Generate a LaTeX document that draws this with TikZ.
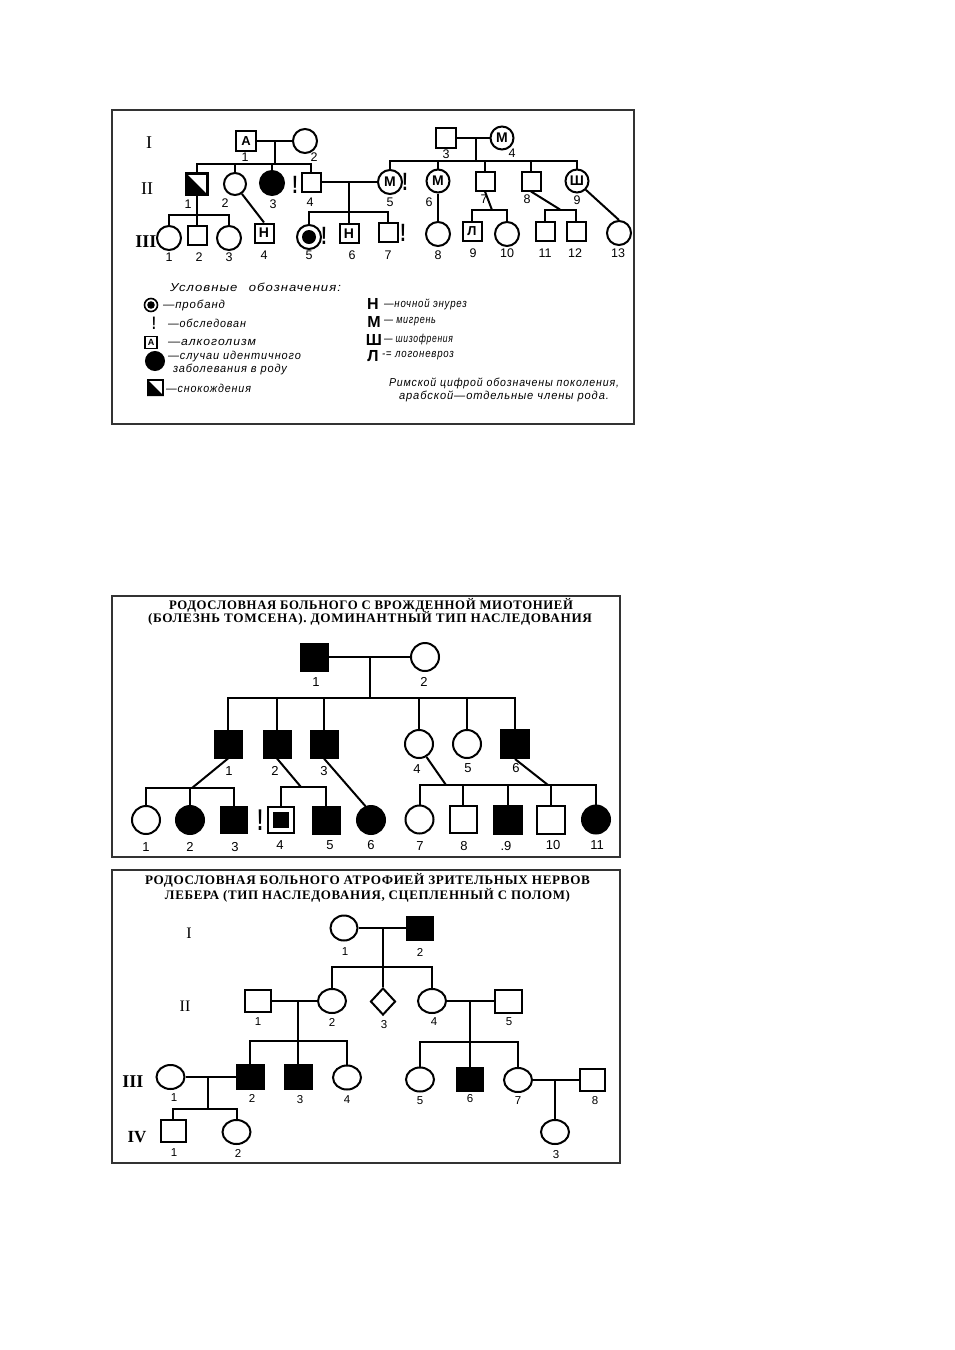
\documentclass[tikz,border=0pt]{standalone}
\usepackage{fontspec}
\setmainfont{Liberation Serif}
\setsansfont{Liberation Sans}
\newfontfamily\handfont[LetterSpace=8]{Liberation Sans}
\newfontfamily\ttlfont[LetterSpace=5]{Liberation Serif}
\newfontfamily\romfont{Liberation Serif}
\usetikzlibrary{shapes.geometric}
\newsavebox\fitbox
\newcommand\fitw[2]{\sbox\fitbox{#2}\pgfmathsetmacro\fitr{#1/\the\wd\fitbox}\scalebox{\fitr}[1]{\usebox\fitbox}}
\newcommand\fsz[1]{\fontsize{#1}{#1}\selectfont}
\begin{document}
\begin{tikzpicture}[x=1pt,y=-1pt,line width=2pt,
  sq/.style={draw,rectangle,inner sep=0pt,minimum size=#1},
  ci/.style={draw,circle,inner sep=0pt,minimum size=#1},
  el/.style 2 args={draw,ellipse,inner sep=0pt,minimum width=#1,minimum height=#2},
  rc/.style 2 args={draw,rectangle,inner sep=0pt,minimum width=#1,minimum height=#2},
  dia/.style={draw,diamond,inner sep=0pt,minimum width=25,minimum height=27},
  blk/.style={fill=black},
  frm/.style={draw=black!80,line width=2pt},
  let/.style={font=\sffamily\bfseries\fsz{14}},
  la/.style={font=\sffamily\fsz{12.5},inner sep=0pt},
  lb/.style={font=\sffamily\fsz{13},inner sep=0pt},
  lc/.style={font=\sffamily\fsz{11.5},inner sep=0pt},
  excl/.style={font=\sffamily\bfseries\fsz{25},inner sep=0pt},
  hand/.style={font=\handfont\itshape\fsz{11.5},inner sep=0pt,anchor=west},
  ttl/.style={font=\ttlfont\bfseries\fsz{13},inner sep=0pt},
  rom/.style={font=\romfont\fsz{18},inner sep=0pt},
  romb/.style={font=\romfont\bfseries\fsz{18},inner sep=0pt}]
\useasboundingbox[fill=white] (0,0) rectangle (955,1350);

%================ PANEL 1 ================
\draw[frm] (112,110) rectangle (634,424);
\node[rom] (r1) at (149,143) {I};
\node[rom] (r2) at (147,189) {II};
\node[romb] (r3) at (146,242) {III};

% generation I
\node[sq=20,let,font=\sffamily\bfseries\fsz{13}] (a11) at (246,141) {А};
\node[ci=24] (a12) at (305,141) {};
\draw (a11) -- (a12);
\coordinate (m11) at (275,141);
\coordinate (s11) at (0,164);
\node[sq=20] (a13) at (446,138) {};
\node[ci=23,let] (a14) at (502,138) {М};
\draw (a13) -- (a14);
\coordinate (m12) at (476,138);
\coordinate (s12) at (0,161);
\node[la] at (245,157) {1};
\node[la] at (314,157) {2};
\node[la] at (446,154) {3};
\node[la] at (512,153) {4};

% generation II
\node[sq=20] (a21) at (197,184) {};
\fill (a21.north west) -- (a21.south east) -- (a21.south west) -- cycle;
\draw (a21.north west) rectangle (a21.south east);
\node[ci=22] (a22) at (235,184) {};
\node[ci=24,blk] (a23) at (272,183) {};
\node[sq=19] (a24) at (311,182) {};
\node[ci=24,let] (a25) at (390,182) {М};
\node[ci=23,let] (a26) at (438,181) {М};
\node[sq=19] (a27) at (485,181) {};
\node[sq=19] (a28) at (531,181) {};
\node[ci=23,let] (a29) at (577,181) {Ш};
\node[excl] (x1) at (295,185) {\scalebox{0.7}[1]{!}};
\node[excl] (x2) at (405,182) {\scalebox{0.7}[1]{!}};
\draw (m11) -- (m11 |- s11);
\draw (a21.north) -- (a21.north |- s11) -- (a24.north |- s11) -- (a24.north);
\draw (a22.north) -- (a22.north |- s11);
\draw (a23.north) -- (a23.north |- s11);
\draw (m12) -- (m12 |- s12);
\draw (a25.north) -- (a25.north |- s12) -- (a29.north |- s12) -- (a29.north);
\foreach \n in {a26,a27,a28} \draw (\n.north) -- (\n.north |- s12);
\draw (a24) -- (a25);
\coordinate (m21) at (349,182);
\coordinate (s21) at (0,212);
\node[la] at (188,204) {1};
\node[la] at (225,203) {2};
\node[la] at (273,204) {3};
\node[la] at (310,202) {4};
\node[la] at (390,202) {5};
\node[la] at (429,202) {6};
\node[la] at (484,199) {7};
\node[la] at (527,199) {8};
\node[la] at (577,200) {9};

% generation III
\node[ci=24] (a31) at (169,238) {};
\node[sq=19] (a32) at (197,235.5) {};
\node[ci=24] (a33) at (229,238) {};
\coordinate (s22) at (0,215);
\draw (a21.south) -- (a32.north);
\draw (a31.north) -- (a31.north |- s22) -- (a33.north |- s22) -- (a33.north);
\node[sq=19,let,font=\sffamily\bfseries\fsz{14}] (a34) at (264,233) {Н};
\draw (a22.-55) -- (a34.north);
\node[ci=24] (a35) at (309,237) {};
\fill (a35.center) circle (7);
\node[excl] (x3) at (324,236) {\scalebox{0.7}[1]{!}};
\node[sq=19,let,font=\sffamily\bfseries\fsz{14}] (a36) at (349,233.5) {Н};
\node[sq=19] (a37) at (388,232.5) {};
\node[excl] (x4) at (403,233) {\scalebox{0.7}[1]{!}};
\draw (m21) -- (a36.north);
\draw (a35.north) -- (a35.north |- s21) -- (a37.north |- s21) -- (a37.north);
\node[ci=24] (a38) at (438,234) {};
\draw (a26.south) -- (a38.north);
\node[sq=19,let,font=\sffamily\bfseries\fsz{13}] (a39) at (472,231) {Л};
\node[ci=24] (a310) at (507,234) {};
\coordinate (s23) at (0,210);
\coordinate (j11) at (492,210);
\draw (a27.south) -- (j11);
\draw (a39.north) -- (a39.north |- s23) -- (a310.north |- s23) -- (a310.north);
\node[sq=19] (a311) at (545,231) {};
\node[sq=19] (a312) at (576,231) {};
\coordinate (s24) at (0,209.5);
\coordinate (j12) at (560,209.5);
\draw (a28.south) -- (j12);
\draw (a311.north) -- (a311.north |- s24) -- (a312.north |- s24) -- (a312.north);
\node[ci=24] (a313) at (619,233) {};
\draw (a29.-45) -- (a313.north);
\node[la] at (169,257) {1};
\node[la] at (199,257) {2};
\node[la] at (229,257) {3};
\node[la] at (264,255) {4};
\node[la] at (309,255) {5};
\node[la] at (352,255) {6};
\node[la] at (388,255) {7};
\node[la] at (438,255) {8};
\node[la] at (473,253) {9};
\node[la] at (507,253) {10};
\node[la] at (545,253) {11};
\node[la] at (575,253) {12};
\node[la] at (618,253) {13};

% legend
\node[hand] (t0) at (169,287) {\fitw{171}{Условные\hspace{10pt}обозначения:}};
\node[ci=13,line width=1.6pt] (g1) at (151,305) {};
\fill (g1.center) circle (3.8);
\node[hand] (t1) at (162,305) {\fitw{62}{—пробанд}};
\node[excl,font=\sffamily\bfseries\fsz{18}] (g2) at (154,323) {\scalebox{0.7}[1]{!}};
\node[hand] (t2) at (167,323) {\fitw{78}{—обследован}};
\node[sq=12,line width=1.4pt,font=\sffamily\bfseries\fsz{9}] (g3) at (151,342.5) {А};
\node[hand] (t3) at (167,342.5) {\fitw{88}{—алкоголизм}};
\node[ci=18,blk] (g4) at (155,361) {};
\node[hand] (t4) at (167,357) {\fitw{133}{—случаи идентичного}};
\node[hand] (t5) at (172,369) {\fitw{114}{заболевания в роду}};
\node[sq=15] (g5) at (155.5,387.5) {};
\fill (g5.north west) -- (g5.south east) -- (g5.south west) -- cycle;
\node[hand] (t6) at (165,388) {\fitw{85}{—снокождения}};

\node[font=\sffamily\bfseries\fsz{16},inner sep=0pt] (h1) at (373,304) {Н};
\node[hand] (u1) at (383,304) {\fitw{83}{—ночной энурез}};
\node[font=\sffamily\bfseries\fsz{16},inner sep=0pt] (h2) at (374,322) {М};
\node[hand] (u2) at (383,322) {\fitw{52}{— мигрень}};
\node[font=\sffamily\bfseries\fsz{16},inner sep=0pt] (h3) at (374,340) {Ш};
\node[hand] (u3) at (383,340) {\fitw{69}{— шизофрения}};
\node[font=\sffamily\bfseries\fsz{16},inner sep=0pt] (h4) at (373,356) {Л};
\node[hand] (u4) at (381,356) {\fitw{72}{-= логоневроз}};
\node[hand] (u5) at (388,383) {\fitw{230}{Римской цифрой обозначены поколения,}};
\node[hand] (u6) at (398,396) {\fitw{210}{арабской—отдельные члены рода.}};

%================ PANEL 2 ================
\draw[frm] (112,596) rectangle (620,857);
\node[ttl] (tt1) at (371,605) {\fitw{404}{РОДОСЛОВНАЯ БОЛЬНОГО С ВРОЖДЕННОЙ МИОТОНИЕЙ}};
\node[ttl] (tt2) at (370,618) {\fitw{444}{(БОЛЕЗНЬ ТОМСЕНА). ДОМИНАНТНЫЙ ТИП НАСЛЕДОВАНИЯ}};

\node[sq=27,blk] (b11) at (314,657) {};
\node[ci=28] (b12) at (425,657) {};
\draw (b11) -- (b12);
\coordinate (mb1) at (370,657);
\coordinate (sb1) at (0,698);
\node[lb] at (316,682) {1};
\node[lb] at (424,682) {2};

\node[sq=27,blk] (b21) at (228,744) {};
\node[sq=27,blk] (b22) at (277,744) {};
\node[sq=27,blk] (b23) at (324,744) {};
\node[ci=28] (b24) at (419,744) {};
\node[ci=28] (b25) at (467,744) {};
\node[sq=28,blk] (b26) at (515,744) {};
\draw (mb1) -- (mb1 |- sb1);
\draw (b21.north) -- (b21.north |- sb1) -- (b26.north |- sb1) -- (b26.north);
\foreach \n in {b22,b23,b24,b25} \draw (\n.north) -- (\n.north |- sb1);
\node[lb] at (229,771) {1};
\node[lb] at (275,771) {2};
\node[lb] at (324,771) {3};
\node[lb] at (417,769) {4};
\node[lb] at (468,768) {5};
\node[lb] at (516,768) {6};

\node[ci=28] (b31) at (146,820) {};
\node[ci=28,blk] (b32) at (190,820) {};
\node[sq=26,blk] (b33) at (234,820) {};
\coordinate (sb2) at (0,788);
\coordinate (jb1) at (192,788);
\draw (b21.south) -- (jb1);
\draw (b31.north) -- (b31.north |- sb2) -- (b33.north |- sb2) -- (b33.north);
\draw (b32.north) -- (b32.north |- sb2);
\node[sq=26] (b34) at (281,820) {};
\fill (b34.center) ++(-8,-8) rectangle ++(16,16);
\node[excl,font=\sffamily\bfseries\fsz{30}] (x5) at (260,820) {\scalebox{0.6}[1]{!}};
\node[sq=27,blk] (b35) at (326,820) {};
\coordinate (sb3) at (0,787);
\coordinate (jb2) at (301,787);
\draw (b22.south) -- (jb2);
\draw (b34.north) -- (b34.north |- sb3) -- (b35.north |- sb3) -- (b35.north);
\node[ci=28,blk] (b36) at (371,820) {};
\draw (b23.south) -- (b36.112);
\node[ci=28] (b37) at (419.5,819.5) {};
\node[sq=27] (b38) at (463,819.5) {};
\node[sq=28,blk] (b39) at (507.5,819.5) {};
\node[sq=28] (b310) at (551,819.5) {};
\node[ci=28,blk] (b311) at (596,819.5) {};
\coordinate (sb4) at (0,785);
\coordinate (jb3) at (446,785);
\coordinate (jb4) at (548,785);
\draw (b24.-60) -- (jb3);
\draw (b26.south) -- (jb4);
\draw (b37.north) -- (b37.north |- sb4) -- (b311.north |- sb4) -- (b311.north);
\foreach \n in {b38,b39,b310} \draw (\n.north) -- (\n.north |- sb4);
\node[lb] at (146,847) {1};
\node[lb] at (190,847) {2};
\node[lb] at (235,847) {3};
\node[lb] at (280,845) {4};
\node[lb] at (330,845) {5};
\node[lb] at (371,845) {6};
\node[lb] at (420,846) {7};
\node[lb] at (464,846) {8};
\node[lb] at (506,846) {.9};
\node[lb] at (553,845) {10};
\node[lb] at (597,845) {11};

%================ PANEL 3 ================
\draw[frm] (112,870) rectangle (620,1163);
\node[ttl] (tt3) at (367.5,880) {\fitw{445}{РОДОСЛОВНАЯ БОЛЬНОГО АТРОФИЕЙ ЗРИТЕЛЬНЫХ НЕРВОВ}};
\node[ttl] (tt4) at (367.5,895) {\fitw{405}{ЛЕБЕРА (ТИП НАСЛЕДОВАНИЯ, СЦЕПЛЕННЫЙ С ПОЛОМ)}};
\node[rom,font=\romfont\fsz{16}] (r4) at (189,933) {I};
\node[rom,font=\romfont\fsz{16}] (r5) at (185,1006) {II};
\node[romb] (r6) at (133,1082) {III};
\node[romb,font=\romfont\bfseries\fsz{17}] (r7) at (137,1137) {IV};

\node[el={27}{25}] (c11) at (344,928) {};
\node[rc={26}{23},blk] (c12) at (420,928) {};
\draw (c11) -- (c12);
\coordinate (mc1) at (383,928);
\coordinate (sc1) at (0,967);
\node[lc] at (345,952) {1};
\node[lc] at (420,952) {2};

\node[rc={26}{22}] (c21) at (258,1001) {};
\node[el={28}{24}] (c22) at (332,1001) {};
\node[dia] (c23) at (383,1001.5) {};
\node[el={28}{24}] (c24) at (432,1001) {};
\node[rc={27}{23}] (c25) at (508,1001) {};
\draw (mc1) -- (c23.north);
\draw (c22.north) -- (c22.north |- sc1) -- (c24.north |- sc1) -- (c24.north);
\draw (c21) -- (c22);
\draw (c24) -- (c25);
\coordinate (mc2) at (298,1001);
\coordinate (mc3) at (470,1001);
\coordinate (sc2) at (0,1041);
\coordinate (sc3) at (0,1042);
\node[lc] at (258,1022) {1};
\node[lc] at (332,1022) {2};
\node[lc] at (384,1025) {3};
\node[lc] at (434,1022) {4};
\node[lc] at (509,1022) {5};

\node[el={28}{24}] (c31) at (170.5,1077) {};
\node[rc={27}{24},blk] (c32) at (250,1077) {};
\node[rc={27}{24},blk] (c33) at (298,1077) {};
\node[el={28}{24}] (c34) at (347,1077.5) {};
\draw (mc2) -- (c33.north);
\draw (c32.north) -- (c32.north |- sc2) -- (c34.north |- sc2) -- (c34.north);
\draw (c31) -- (c32);
\coordinate (mc4) at (208,1077);
\coordinate (sc4) at (0,1109);
\node[el={28}{24}] (c35) at (420,1079.5) {};
\node[rc={26}{23},blk] (c36) at (470,1079) {};
\node[el={28}{24}] (c37) at (518,1080) {};
\node[rc={25}{22}] (c38) at (592,1080) {};
\draw (mc3) -- (c36.north);
\draw (c35.north) -- (c35.north |- sc3) -- (c37.north |- sc3) -- (c37.north);
\draw (c37) -- (c38);
\coordinate (mc5) at (555,1080);
\node[lc] at (174,1098) {1};
\node[lc] at (252,1098) {2};
\node[lc] at (300,1100) {3};
\node[lc] at (347,1100) {4};
\node[lc] at (420,1101) {5};
\node[lc] at (470,1099) {6};
\node[lc] at (518,1101) {7};
\node[lc] at (595,1101) {8};

\node[rc={25}{22}] (c41) at (173,1131) {};
\node[el={28}{24}] (c42) at (236.5,1132) {};
\node[el={28}{24}] (c43) at (555,1132) {};
\draw (mc4) -- (mc4 |- sc4);
\draw (c41.north) -- (c41.north |- sc4) -- (c42.north |- sc4) -- (c42.north);
\draw (mc5) -- (c43.north);
\node[lc] at (174,1153) {1};
\node[lc] at (238,1153) {2};
\node[lc] at (556,1155) {3};
\end{tikzpicture}
\end{document}
